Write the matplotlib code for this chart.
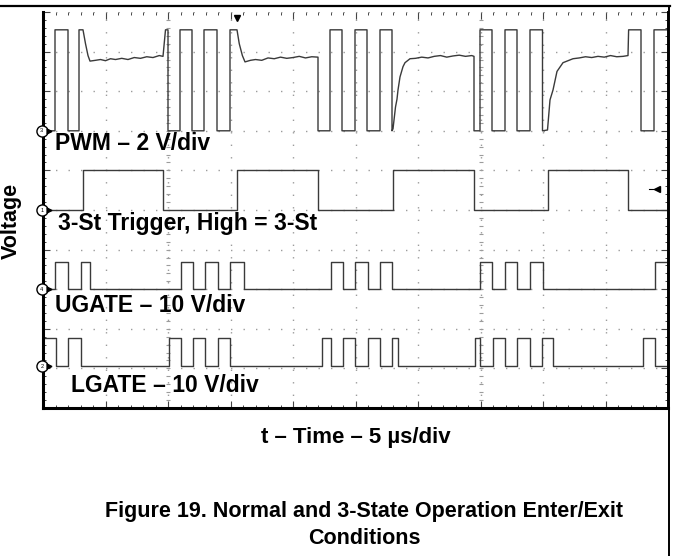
import numpy as np
import matplotlib
matplotlib.use("Agg")
import matplotlib.pyplot as plt
from matplotlib.lines import Line2D
from matplotlib.ticker import MultipleLocator

# ---------------- data (time in µs, level in screen divisions) ----------------
pwm_t = [0, 0.96, 0.96, 2.0, 2.0, 2.88, 2.88, 3.2,
         3.4, 3.6, 3.76,
         4.2, 4.6, 5.0, 5.4, 5.8, 6.3, 6.8, 7.3, 7.8, 8.3, 8.8, 9.3, 9.6,
         9.8, 10.0, 10.0, 10.96, 10.96, 11.92, 11.92, 12.88, 12.88, 13.92, 13.92,
         14.96, 14.96, 15.52,
         15.7, 15.95, 16.16,
         16.6, 17.0, 17.5, 18.0, 18.5, 19.0, 19.5, 20.0, 20.5, 21.0, 21.5, 22.0,
         22.0, 22.96, 22.96, 23.92, 23.92, 24.96, 24.96, 25.92, 25.92, 26.96, 26.96,
         27.92, 27.92, 28.0,
         28.2, 28.32, 28.4, 28.56, 28.8, 28.96, 29.36, 29.8, 30.3, 30.8, 31.3, 31.8,
         32.3, 32.8, 33.3, 33.8, 34.3, 34.48,
         34.48, 34.96, 34.96, 35.92, 35.92, 36.96, 36.96, 37.92, 37.92, 38.96, 38.96,
         39.96, 39.96, 40.36,
         40.56, 40.8, 41.12, 41.6, 42.4, 42.9, 43.4, 43.9, 44.4, 44.9, 45.4, 45.9,
         46.4, 46.8,
         46.85, 47.84, 47.84, 48.88, 48.88, 50.0]
pwm_v = [7.0, 7.0, 9.55, 9.55, 7.0, 7.0, 9.55, 9.55,
         9.2, 8.9, 8.76,
         8.78, 8.80, 8.77, 8.82, 8.80, 8.83, 8.80, 8.85, 8.83, 8.87, 8.85, 8.90, 8.88,
         9.55, 9.55, 7.0, 7.0, 9.55, 9.55, 7.0, 7.0, 9.55, 9.55, 7.0,
         7.0, 9.55, 9.55,
         9.2, 8.9, 8.74,
         8.78, 8.80, 8.78, 8.84, 8.82, 8.86, 8.83, 8.85, 8.88, 8.84, 8.87, 8.86,
         7.0, 7.0, 9.55, 9.55, 7.0, 7.0, 9.55, 9.55, 7.0, 7.0, 9.55,
         9.55, 7.0, 7.05,
         7.6, 7.8, 8.03, 8.36, 8.62, 8.72, 8.82, 8.83, 8.86, 8.84, 8.88, 8.90,
         8.86, 8.89, 8.91, 8.88, 8.90, 8.88,
         7.0, 7.0, 9.55, 9.55, 7.0, 7.0, 9.55, 9.55, 7.0, 7.0, 9.55,
         9.55, 7.0, 7.02,
         7.78, 8.03, 8.50, 8.72, 8.82, 8.84, 8.87, 8.85, 8.88, 8.86, 8.90, 8.87,
         8.88, 8.90,
         9.55, 9.55, 7.0, 7.0, 9.55, 9.55]

trig_rise = [3.2, 15.5, 28.0, 40.4]
trig_fall = [9.6, 22.0, 34.5, 46.8]
trig_low, trig_high = 5.0, 6.0

ugate_on = [0.96, 3.04, 11.04, 12.96, 14.96, 23.04, 24.96, 26.96, 34.96, 36.96, 38.96, 48.96]
ugate_off = [2.0, 3.76, 12.0, 14.0, 16.08, 24.0, 26.0, 27.92, 35.92, 37.92, 39.96, 50.0]
ugate_low, ugate_high = 3.0, 3.68

lgate_on = [0.0, 2.0, 10.08, 12.0, 14.0, 22.32, 24.0, 26.0, 27.92, 34.56, 36.0, 37.92, 39.92, 48.0]
lgate_off = [1.04, 3.04, 11.04, 12.96, 14.96, 23.04, 24.96, 26.96, 28.4, 34.96, 36.96, 38.96, 40.8, 48.96]
lgate_low, lgate_high = 1.05, 1.78

channel_ids = ["3", "1", "4", "2"]
channel_levels = [7.0, 5.0, 3.0, 1.05]

trace_labels = ["PWM \u2013 2 V/div", "3-St Trigger, High = 3-St",
                "UGATE \u2013 10 V/div", "LGATE \u2013 10 V/div"]


def pulses(on, off, lo, hi, t0=0.0, t1=50.0):
    xs, ys = [t0], [hi if on[0] <= t0 else lo]
    for a, b in zip(on, off):
        if a > t0:
            xs += [a, a]
            ys += [lo, hi]
        xs += [b, b]
        ys += [hi, lo]
    if xs[-1] < t1:
        xs.append(t1)
        ys.append(ys[-1])
    return xs, ys


W, H = 673, 556
fig = plt.figure(figsize=(W / 100, H / 100), dpi=100)
FONT = "Liberation Sans"

x0, x1, ytop, ybot = 43, 668, 12, 408
ax = fig.add_axes([x0 / W, (H - ybot) / H, (x1 - x0) / W, (ybot - ytop) / H])
ax.set_xlim(0, 50)
ax.set_ylim(0, 10)

# graticule
ax.xaxis.set_major_locator(MultipleLocator(5))
ax.xaxis.set_minor_locator(MultipleLocator(1))
ax.yaxis.set_major_locator(MultipleLocator(1))
ax.yaxis.set_minor_locator(MultipleLocator(0.2))
ax.grid(True, which="major", color="#9c9c9c", linestyle=(0, (1, 8)), linewidth=1.0)
ax.set_axisbelow(True)
ax.tick_params(which="both", direction="in", top=True, right=True, left=True, bottom=True,
               labelleft=False, labelbottom=False, color="#444444")
ax.tick_params(which="major", length=5, width=0.8)
ax.tick_params(which="minor", length=2.5, width=0.7)

for xc in (10, 35):
    yy = np.arange(0.2, 10, 0.2)
    ax.plot(np.full_like(yy, xc), yy, linestyle="none", marker="_", markersize=3,
            color="#9c9c9c", markeredgewidth=0.8)

for side, lw in (("left", 2.2), ("bottom", 2.2), ("right", 1.4)):
    ax.spines[side].set_linewidth(lw)
    ax.spines[side].set_color("black")
ax.spines["top"].set_visible(False)

trace_color = "#3a3a3a"
ax.plot(pwm_t, pwm_v, color=trace_color, lw=1.0)
tx, ty = pulses(trig_rise, trig_fall, trig_low, trig_high)
ax.plot(tx, ty, color=trace_color, lw=1.0)
ux, uy = pulses(ugate_on, ugate_off, ugate_low, ugate_high)
ax.plot(ux, uy, color=trace_color, lw=1.0)
lx, ly = pulses(lgate_on, lgate_off, lgate_low, lgate_high)
ax.plot(lx, ly, color=trace_color, lw=1.0)

# channel markers
for cid, lev in zip(channel_ids, channel_levels):
    ax.plot([-0.1], [lev], marker="o", markersize=8, mfc="white", mec="black", mew=1.0,
            clip_on=False, zorder=5)
    ax.text(-0.1, lev, cid, fontsize=4, ha="center", va="center", clip_on=False, zorder=6,
            family=FONT)
    ax.plot([0.45], [lev], marker=">", markersize=3.5, color="black", clip_on=False, zorder=5)

# trigger markers
ax.plot([15.52], [9.85], marker="v", markersize=5, color="black", clip_on=False, zorder=5)
ax.plot([49.1], [5.53], marker="<", markersize=4, color="black", clip_on=False, zorder=5)
ax.plot([48.5, 49.3], [5.53, 5.53], color="black", lw=0.8)

ax.set_xticklabels([])
ax.set_yticklabels([])


def ftxt(x, y, s, **kw):
    fig.text(x / W, 1 - y / H, s, family=FONT, weight="bold", **kw)


lab_pos = [(55, 144), (58, 224), (55, 306), (71, 385)]
for (lx_, ly_), s in zip(lab_pos, trace_labels):
    ftxt(lx_, ly_, s, fontsize=16.5, ha="left", va="center")

ftxt(1, 221, "Voltage", fontsize=15.5, ha="left", va="center", rotation=90)
ftxt(356, 437, "t \u2013 Time \u2013 5 \u00b5s/div", fontsize=16, ha="center", va="center")
ftxt(364, 512, "Figure 19. Normal and 3-State Operation Enter/Exit", fontsize=15.5,
     ha="center", va="center")
ftxt(364, 538, "Conditions", fontsize=15.5, ha="center", va="center")

# page frame lines
fig.add_artist(Line2D([0, 670 / W], [1 - 6 / H, 1 - 6 / H], color="black", lw=1.6,
                      transform=fig.transFigure))
fig.add_artist(Line2D([669 / W, 669 / W], [1 - 6 / H, 0], color="black", lw=1.4,
                      transform=fig.transFigure))

fig.savefig("out.png", dpi=100)
